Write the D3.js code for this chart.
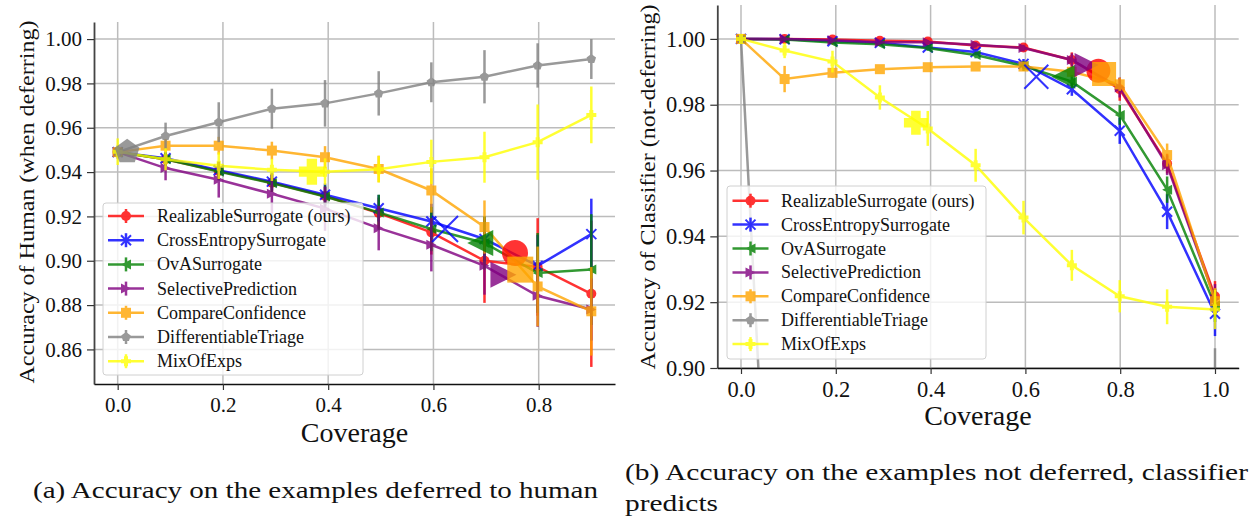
<!DOCTYPE html>
<html>
<head>
<meta charset="utf-8">
<script src="https://cdn.jsdelivr.net/npm/d3@7"></script>
<style>
    body { margin: 0; background: #fff; }
    svg { display: block; }
    text { font-family: "Liberation Serif", "DejaVu Serif", serif; fill: #111; }
</style>
</head>
<body>
<div id="chart"></div>
<script>
// methods, in legend order
const methods = ["RealizableSurrogate (ours)", "CrossEntropySurrogate", "OvASurrogate",
    "SelectivePrediction", "CompareConfidence", "DifferentiableTriage", "MixOfExps"];
const colors = ["#ff0000", "#0000ff", "#008000", "#800080", "#ffa500", "#808080", "#ffff00"];
const markers = ["circle", "x", "triLeft", "triRight", "square", "pentagon", "plus"];

// (a) accuracy of human when deferring
const coverageHuman = [0, 0.091, 0.192, 0.293, 0.394, 0.496, 0.596, 0.697, 0.798, 0.9];
const humanRealizable = [0.949, 0.9458, 0.9405, 0.9352, 0.9292, 0.9215, 0.9128, 0.900, 0.8972, 0.8851];
const humanCrossEntropy = [0.949, 0.9462, 0.9408, 0.9357, 0.9298, 0.9237, 0.9177, 0.9098, 0.8977, 0.912];
const humanOvA = [0.949, 0.9458, 0.9402, 0.935, 0.929, 0.9218, 0.9143, 0.908, 0.8945, 0.896];
const humanSelective = [0.949, 0.9418, 0.9365, 0.9302, 0.9235, 0.9147, 0.9072, 0.8977, 0.8842, 0.878];
const humanCompare = [0.949, 0.9519, 0.9519, 0.9497, 0.9467, 0.9414, 0.9317, 0.9152, 0.8884, 0.8772];
const humanTriage = [0.949, 0.9563, 0.9625, 0.9686, 0.971, 0.9755, 0.9805, 0.983, 0.9881, 0.991];
const humanMixExp = [0.9492, 0.9458, 0.9429, 0.941, 0.9402, 0.9413, 0.9446, 0.9467, 0.9535, 0.9658];

const humanErrRealizable = [0.002, 0.003, 0.004, 0.004, 0.004, 0.007, 0.010, 0.019, 0.022, 0.033];
const humanErrCrossEntropy = [0.002, 0.003, 0.004, 0.004, 0.005, 0.006, 0.008, 0.010, 0.014, 0.016];
const humanErrOvA = [0.002, 0.003, 0.004, 0.004, 0.005, 0.008, 0.010, 0.012, 0.018, 0.025];
const humanErrSelective = [0.002, 0.0055, 0.008, 0.009, 0.010, 0.010, 0.012, 0.013, 0.014, 0.014];
const humanErrCompare = [0.002, 0.003, 0.004, 0.004, 0.005, 0.006, 0.010, 0.012, 0.018, 0.020];
const humanErrTriage = [0.003, 0.006, 0.009, 0.009, 0.0105, 0.010, 0.009, 0.012, 0.010, 0.009];
const humanErrMixExp = [0.006, 0.005, 0.006, 0.005, 0.006, 0.006, 0.010, 0.0115, 0.017, 0.0128];

// big markers: operating point of each method
const humanBigCoverage = [0.755, 0.622, 0.689, 0.733, 0.765, 0.018, 0.369];
const humanBigAcc = [0.9035, 0.9143, 0.908, 0.8937, 0.896, 0.9492, 0.9402];

// (b) accuracy of classifier when not deferring
const coverageClf = [0, 0.092, 0.193, 0.293, 0.394, 0.495, 0.596, 0.698, 0.799, 0.899, 1.0];
const clfRealizable = [1.0, 1.0, 0.9998, 0.9994, 0.9992, 0.998, 0.9974, 0.9936, 0.9847, 0.9621, 0.9218];
const clfCrossEntropy = [1.0, 0.9999, 0.9993, 0.9988, 0.9974, 0.996, 0.9924, 0.9847, 0.9721, 0.9475, 0.9165];
const clfOvA = [1.0, 0.9998, 0.9989, 0.9984, 0.9972, 0.9951, 0.9918, 0.987, 0.9769, 0.9542, 0.919];
const clfSelective = [1.0, 1.0, 0.9996, 0.999, 0.999, 0.9982, 0.9972, 0.9936, 0.9852, 0.9616, 0.921];
const clfCompare = [1.0, 0.9878, 0.9897, 0.9908, 0.9914, 0.9916, 0.9916, 0.99, 0.9862, 0.9647, 0.9203];
const clfTriage = [1.0, 0.749, 0.78, 0.80, 0.82, 0.84, 0.85, 0.86, 0.87, 0.88, 0.885];
const clfMixExp = [1.0, 0.99645, 0.9931, 0.9822, 0.9728, 0.9616, 0.9457, 0.9312, 0.9218, 0.9186, 0.9178];

const clfErrRealizable = [0, 0.0003, 0.0005, 0.0005, 0.0006, 0.0008, 0.001, 0.0023, 0.0035, 0.003, 0.0046];
const clfErrCrossEntropy = [0, 0.0003, 0.0005, 0.0006, 0.0008, 0.001, 0.0015, 0.002, 0.004, 0.0053, 0.0068];
const clfErrOvA = [0, 0.0003, 0.0005, 0.0006, 0.0008, 0.001, 0.0015, 0.002, 0.003, 0.004, 0.005];
const clfErrSelective = [0, 0.0003, 0.0005, 0.0005, 0.0006, 0.0008, 0.001, 0.002, 0.003, 0.003, 0.0045];
const clfErrCompare = [0, 0.004, 0.0015, 0.001, 0.001, 0.001, 0.001, 0.0015, 0.002, 0.0035, 0.004];
const clfErrTriage = [0, 0.01, 0.01, 0.01, 0.01, 0.01, 0.01, 0.01, 0.01, 0.015, 0.021];
const clfErrMixExp = [0, 0.0023, 0.0033, 0.0037, 0.0053, 0.005, 0.0051, 0.0047, 0.0049, 0.0053, 0.006];

const clfBigCoverage = [0.754, 0.623, 0.680, 0.729, 0.766, 0.02, 0.369];
const clfBigAcc = [0.9903, 0.9885, 0.9885, 0.9921, 0.9893, 0.75, 0.9745];

// ticks
const humanXTicks = [0, 0.2, 0.4, 0.6, 0.8];
const humanYTicks = [0.86, 0.88, 0.90, 0.92, 0.94, 0.96, 0.98, 1.00];
const clfXTicks = [0, 0.2, 0.4, 0.6, 0.8, 1.0];
const clfYTicks = [0.90, 0.92, 0.94, 0.96, 0.98, 1.00];

const serif = '"Liberation Serif", "DejaVu Serif", serif';

const svg = d3.select("#chart")
    .append("svg")
    .attr("width", 1253)
    .attr("height", 520)
    .attr("font-family", serif);

function markerPath(type, s) {
    const r = s / 2;
    if (type === "circle") return d3.symbol(d3.symbolCircle, Math.PI * r * r)();
    if (type === "square") return `M${-r},${-r}h${s}v${s}h${-s}Z`;
    if (type === "triLeft") return `M${-r},0L${r},${-r}L${r},${r}Z`;
    if (type === "triRight") return `M${r},0L${-r},${-r}L${-r},${r}Z`;
    if (type === "x") return `M${-r},${-r}L${r},${r}M${-r},${r}L${r},${-r}`;
    if (type === "plus") {
        const t = s * 0.2;
        return `M${-t},${-r}H${t}V${-t}H${r}V${t}H${t}V${r}H${-t}V${t}H${-r}V${-t}H${-t}Z`;
    }
    // pentagon
    const pts = d3.range(5).map(k => {
        const a = -Math.PI / 2 + k * 2 * Math.PI / 5;
        return [r * Math.cos(a), r * Math.sin(a)];
    });
    return "M" + pts.map(p => p.join(",")).join("L") + "Z";
}

function drawMarker(sel, type, color, size) {
    const p = sel.append("path").attr("d", markerPath(type, size));
    if (type === "x") {
        p.attr("fill", "none").attr("stroke", color).attr("stroke-width", 2);
    } else {
        p.attr("fill", color).attr("stroke", "none");
    }
    return p;
}

function drawPanel(p) {
    const x = d3.scaleLinear().domain(p.xDomain).range([p.left, p.right]);
    const y = d3.scaleLinear().domain(p.yDomain).range([p.bottom, p.top]);
    const g = svg.append("g");

    // grid
    g.append("g").selectAll("line")
        .data(p.xTicks)
        .join("line")
        .attr("x1", d => x(d)).attr("x2", d => x(d))
        .attr("y1", p.top).attr("y2", p.bottom)
        .attr("stroke", "#bcbcbc")
        .attr("stroke-width", 1.5);
    g.append("g").selectAll("line")
        .data(p.yTicks)
        .join("line")
        .attr("x1", p.left).attr("x2", p.right)
        .attr("y1", d => y(d)).attr("y2", d => y(d))
        .attr("stroke", "#bcbcbc")
        .attr("stroke-width", 1.5);

    // series
    g.append("clipPath").attr("id", p.id + "-clip")
        .append("rect")
        .attr("x", p.left).attr("y", p.top)
        .attr("width", p.right - p.left).attr("height", p.bottom - p.top);
    const plot = g.append("g").attr("clip-path", `url(#${p.id}-clip)`);

    p.acc.forEach((acc, i) => {
        const pts = p.coverage.map((c, j) => ({ c: c, v: acc[j], e: p.err[i][j] }));
        const s = plot.append("g").attr("opacity", 0.8);
        s.selectAll(".err")
            .data(pts)
            .join("line")
            .attr("x1", d => x(d.c)).attr("x2", d => x(d.c))
            .attr("y1", d => y(d.v - d.e)).attr("y2", d => y(d.v + d.e))
            .attr("stroke", colors[i])
            .attr("stroke-width", 2.5);
        s.append("path")
            .datum(pts)
            .attr("fill", "none")
            .attr("stroke", colors[i])
            .attr("stroke-width", 2.5)
            .attr("d", d3.line().x(d => x(d.c)).y(d => y(d.v)));
        pts.forEach(d => {
            drawMarker(s, markers[i], colors[i], 10)
                .attr("transform", `translate(${x(d.c)},${y(d.v)})`);
        });
    });

    p.bigCoverage.forEach((c, i) => {
        drawMarker(plot, markers[i], colors[i], p.bigSize)
            .attr("opacity", 0.8)
            .attr("transform", `translate(${x(c)},${y(p.bigAcc[i])})`);
    });

    // axes
    const yAxis = g.append("g")
        .attr("transform", `translate(${p.left},0)`)
        .call(d3.axisLeft(y).tickValues(p.yTicks).tickFormat(d3.format(".2f"))
            .tickSize(7).tickSizeOuter(0).tickPadding(5));
    const xAxis = g.append("g")
        .attr("transform", `translate(0,${p.bottom})`)
        .call(d3.axisBottom(x).tickValues(p.xTicks).tickFormat(d3.format(".1f"))
            .tickSize(6).tickSizeOuter(0).tickPadding(7));
    [yAxis, xAxis].forEach(a => {
        a.attr("font-family", serif).attr("font-size", p.tickFont);
        a.selectAll("text").attr("fill", "#111");
        a.selectAll(".tick line").attr("stroke", "#333").attr("stroke-width", 1.2);
    });
    yAxis.select(".domain").attr("stroke", "#444").attr("stroke-width", 1.8);
    xAxis.select(".domain").attr("stroke", "#111").attr("stroke-width", 1.4);

    // labels
    g.append("text")
        .attr("x", (p.left + p.right) / 2)
        .attr("y", p.xLabelY)
        .attr("text-anchor", "middle")
        .style("font-size", "28px")
        .text("Coverage");
    g.append("text")
        .attr("transform", `translate(${p.yLabelX},${p.yLabelMid}) rotate(-90)`)
        .attr("text-anchor", "middle")
        .attr("dominant-baseline", "central")
        .attr("textLength", p.yLabelLen)
        .attr("lengthAdjust", "spacingAndGlyphs")
        .style("font-size", "21px")
        .text(p.yLabel);

    // legend
    const lg = g.append("g");
    lg.append("rect")
        .attr("x", p.legend.x).attr("y", p.legend.y)
        .attr("width", p.legend.w).attr("height", p.legend.h)
        .attr("rx", 3)
        .attr("fill", "white").attr("fill-opacity", 0.8)
        .attr("stroke", "#d0d0d0").attr("stroke-width", 1);
    methods.forEach((m, i) => {
        const ly = p.legend.y0 + i * p.legend.step;
        const cx = p.legend.x + p.legend.mx;
        const e = lg.append("g").attr("opacity", 0.8);
        e.append("line")
            .attr("x1", cx - 18).attr("x2", cx + 18)
            .attr("y1", ly).attr("y2", ly)
            .attr("stroke", colors[i]).attr("stroke-width", 2.5);
        e.append("line")
            .attr("x1", cx).attr("x2", cx)
            .attr("y1", ly - 7).attr("y2", ly + 7)
            .attr("stroke", colors[i]).attr("stroke-width", 2.5);
        drawMarker(e, markers[i], colors[i], 10).attr("transform", `translate(${cx},${ly})`);
        lg.append("text")
            .attr("x", p.legend.x + p.legend.tx)
            .attr("y", ly)
            .attr("dominant-baseline", "central")
            .style("font-size", "18px")
            .text(m);
    });
}

function createHumanChart() {
    drawPanel({
        id: "human",
        left: 94, right: 615, top: 22, bottom: 384,
        xDomain: [-0.045, 0.945], yDomain: [0.8444, 1.0077],
        xTicks: humanXTicks, yTicks: humanYTicks,
        coverage: coverageHuman,
        acc: [humanRealizable, humanCrossEntropy, humanOvA, humanSelective, humanCompare, humanTriage, humanMixExp],
        err: [humanErrRealizable, humanErrCrossEntropy, humanErrOvA, humanErrSelective, humanErrCompare, humanErrTriage, humanErrMixExp],
        bigCoverage: humanBigCoverage, bigAcc: humanBigAcc, bigSize: 26,
        tickFont: 21,
        xLabelY: 442,
        yLabel: "Accuracy of Human (when deferring)", yLabelX: 27, yLabelMid: 202, yLabelLen: 363,
        legend: { x: 103, y: 203, w: 260, h: 172, y0: 216, step: 24.2, mx: 23, tx: 54 }
    });
}

function createClassifierChart() {
    drawPanel({
        id: "clf",
        left: 717.3, right: 1238.7, top: 5, bottom: 368,
        xDomain: [-0.05, 1.05], yDomain: [0.9, 1.0103],
        xTicks: clfXTicks, yTicks: clfYTicks,
        coverage: coverageClf,
        acc: [clfRealizable, clfCrossEntropy, clfOvA, clfSelective, clfCompare, clfTriage, clfMixExp],
        err: [clfErrRealizable, clfErrCrossEntropy, clfErrOvA, clfErrSelective, clfErrCompare, clfErrTriage, clfErrMixExp],
        bigCoverage: clfBigCoverage, bigAcc: clfBigAcc, bigSize: 24,
        tickFont: 22.5,
        xLabelY: 425,
        yLabel: "Accuracy of Classifier (not-deferring)", yLabelX: 648, yLabelMid: 187, yLabelLen: 365,
        legend: { x: 727, y: 186, w: 259, h: 173, y0: 200.7, step: 23.9, mx: 23.5, tx: 54 }
    });
}

function createCaptions() {
    svg.append("text")
        .attr("x", 33).attr("y", 498)
        .attr("textLength", 565)
        .attr("lengthAdjust", "spacingAndGlyphs")
        .style("font-size", "23px")
        .text("(a) Accuracy on the examples deferred to human");
    svg.append("text")
        .attr("x", 625).attr("y", 479.5)
        .attr("textLength", 623)
        .attr("lengthAdjust", "spacingAndGlyphs")
        .style("font-size", "23px")
        .text("(b) Accuracy on the examples not deferred, classifier");
    svg.append("text")
        .attr("x", 625).attr("y", 511)
        .attr("textLength", 93)
        .attr("lengthAdjust", "spacingAndGlyphs")
        .style("font-size", "23px")
        .text("predicts");
}

document.addEventListener("DOMContentLoaded", function() {
    createHumanChart();
    createClassifierChart();
    createCaptions();
});
</script>
</body>
</html>
